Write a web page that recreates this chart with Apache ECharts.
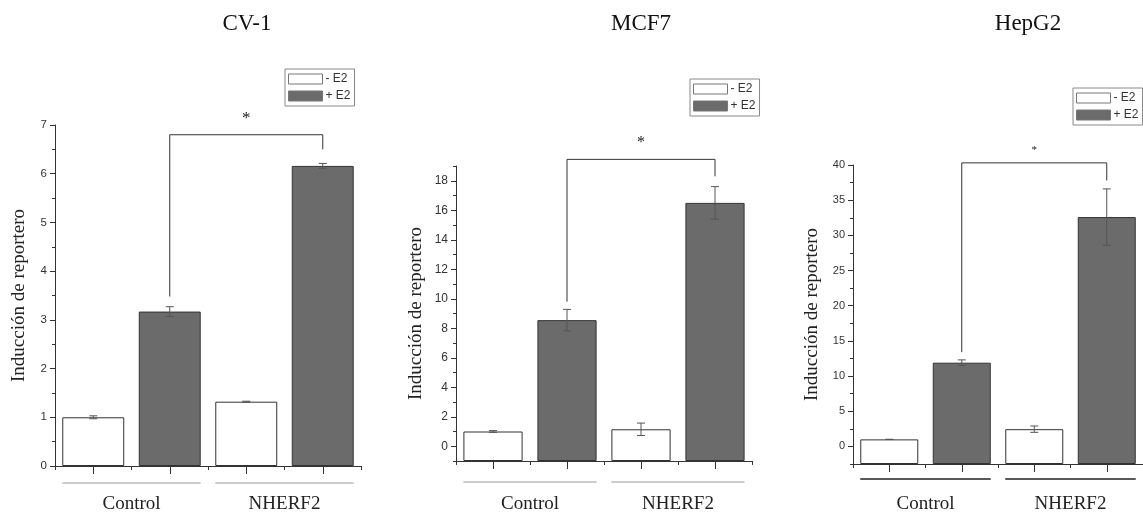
<!DOCTYPE html>
<html><head><meta charset="utf-8">
<script src="https://cdn.jsdelivr.net/npm/echarts@6/dist/echarts.min.js"></script>
<style>html,body{margin:0;padding:0;background:#fff}#c{width:1143px;height:514px}</style>
</head><body><div id="c"></div>
<script>
// ---- data ----
const panelTitles = ['CV-1', 'MCF7', 'HepG2'];
const categories = ['Control - E2', 'Control + E2', 'NHERF2 - E2', 'NHERF2 + E2'];
const groups = ['Control', 'NHERF2'];
const seriesNames = ['- E2', '+ E2'];
const yAxisTitle = 'Inducción de reportero';

const cv1NoE2 = [1.00, 1.32];
const cv1E2 = [3.17, 6.16];
const cv1NoE2Err = [0.03, 0.01];
const cv1E2Err = [0.10, 0.05];
const cv1Ticks = [0, 1, 2, 3, 4, 5, 6, 7];
const cv1Range = [0, 7];
const cv1MinorStep = 0.5;
const cv1Bracket = [3.48, 6.5, 6.8]; // left end, right end, top

const mcf7NoE2 = [1.00, 1.15];
const mcf7E2 = [8.55, 16.5];
const mcf7NoE2Err = [0.06, 0.42];
const mcf7E2Err = [0.73, 1.10];
const mcf7Ticks = [0, 2, 4, 6, 8, 10, 12, 14, 16, 18];
const mcf7Range = [-1, 19];
const mcf7MinorStep = 1;
const mcf7Bracket = [9.8, 18.3, 19.45];

const hepNoE2 = [1.00, 2.45];
const hepE2 = [11.9, 32.6];
const hepNoE2Err = [0.0, 0.45];
const hepE2Err = [0.40, 4.0];
const hepTicks = [0, 5, 10, 15, 20, 25, 30, 35, 40];
const hepRange = [-2.5, 40];
const hepMinorStep = 2.5;
const hepBracket = [13.4, 37.8, 40.3];

// ---- layout / style (not data) ----
const panels = [
  { noE2: cv1NoE2, e2: cv1E2, noE2Err: cv1NoE2Err, e2Err: cv1E2Err, ticks: cv1Ticks, range: cv1Range, minor: cv1MinorStep, bracket: cv1Bracket,
    grid: { left: 55, top: 125, width: 306, height: 342 }, nameGap: 26, labelSize: 11.5, legend: { left: 285, top: 69 },
    title: [247, 24], starGap: 16, starSize: 17, groupOff: 17, groupColor: '#999', groupWidth: 1, groupMargin: 29, barW: 0.81 },
  { noE2: mcf7NoE2, e2: mcf7E2, noE2Err: mcf7NoE2Err, e2Err: mcf7E2Err, ticks: mcf7Ticks, range: mcf7Range, minor: mcf7MinorStep, bracket: mcf7Bracket,
    grid: { left: 456, top: 166, width: 296, height: 298 }, nameGap: 30, labelSize: 12, legend: { left: 690, top: 79 },
    title: [641, 24], starGap: 17, starSize: 16, groupOff: 21, groupColor: '#999', groupWidth: 1, groupMargin: 34, barW: 0.8 },
  { noE2: hepNoE2, e2: hepE2, noE2Err: hepNoE2Err, e2Err: hepE2Err, ticks: hepTicks, range: hepRange, minor: hepMinorStep, bracket: hepBracket,
    grid: { left: 853, top: 165, width: 294, height: 299 }, nameGap: 31, labelSize: 11, legend: { left: 1073, top: 88 },
    title: [1028, 24], starGap: 13, starSize: 11, groupOff: 15, groupColor: '#222', groupWidth: 1.5, groupMargin: 31, barW: 0.8 }
];

const serif = 'Liberation Serif';
const sans = 'Liberation Sans';
const grids = [], xAxes = [], yAxes = [], series = [], legends = [], graphics = [];

panels.forEach((p, i) => {
  grids.push(Object.assign({ containLabel: false }, p.grid));
  const xi = xAxes.length, yi = yAxes.length;
  xAxes.push({ type: 'category', gridIndex: i, data: categories, position: 'bottom',
    axisLine: { onZero: false, lineStyle: { color: '#333', width: 1 } },
    axisTick: { show: true, length: 4, interval: 0, lineStyle: { color: '#333' } },
    axisLabel: { show: false }, splitLine: { show: false } });
  xAxes.push({ type: 'category', gridIndex: i, data: categories, position: 'bottom',
    axisLine: { show: false, onZero: false },
    axisTick: { show: true, alignWithLabel: true, length: 8, interval: 0, lineStyle: { color: '#333' } },
    axisLabel: { show: false, interval: 0 }, splitLine: { show: false } });
  xAxes.push({ type: 'category', gridIndex: i, data: groups, position: 'bottom',
    axisLine: { show: false, onZero: false }, axisTick: { show: false },
    axisLabel: { show: true, margin: p.groupMargin, fontFamily: serif, fontSize: 19, color: '#222' } });

  yAxes.push({ type: 'value', gridIndex: i, position: 'left', min: p.range[0], max: p.range[1],
    axisLine: { show: true, lineStyle: { color: '#333', width: 1 } },
    axisTick: { show: true, length: 5, customValues: p.ticks, lineStyle: { color: '#333' } },
    axisLabel: { show: true, customValues: p.ticks, margin: 8, fontFamily: sans, fontSize: p.labelSize, color: '#333' },
    splitLine: { show: false },
    name: yAxisTitle, nameLocation: 'middle', nameGap: p.nameGap,
    nameTextStyle: { fontFamily: serif, fontSize: 19, color: '#222' } });
  yAxes.push({ type: 'value', gridIndex: i, position: 'left', min: p.range[0], max: p.range[1], interval: p.minor,
    axisLine: { show: false }, axisTick: { show: true, length: 3, lineStyle: { color: '#333' } },
    axisLabel: { show: false }, splitLine: { show: false } });

  // bars start at the axis minimum: an invisible base bar (0 -> min) with the real bar stacked on it
  const base = p.range[0];
  const bw = (p.barW * 100) + '%';
  const common = { type: 'bar', xAxisIndex: xi, yAxisIndex: yi, barWidth: bw, barGap: '-100%', stackStrategy: 'all' };
  series.push(Object.assign({}, common, { name: 'baseA' + i, stack: 'A' + i, data: [base, '-', base, '-'],
    itemStyle: { color: 'rgba(0,0,0,0)' }, silent: true, z: 1 }));
  series.push(Object.assign({}, common, { name: seriesNames[0], stack: 'A' + i,
    data: [p.noE2[0] - base, '-', p.noE2[1] - base, '-'],
    itemStyle: { color: '#ffffff', borderColor: '#333', borderWidth: 1 }, z: 2 }));
  series.push(Object.assign({}, common, { name: 'baseB' + i, stack: 'B' + i, data: ['-', base, '-', base],
    itemStyle: { color: 'rgba(0,0,0,0)' }, silent: true, z: 1 }));
  series.push(Object.assign({}, common, { name: seriesNames[1], stack: 'B' + i,
    data: ['-', p.e2[0] - base, '-', p.e2[1] - base],
    itemStyle: { color: '#6b6b6b', borderColor: '#333', borderWidth: 1 }, z: 2 }));

  const errData = [
    [0, p.noE2[0] - p.noE2Err[0], p.noE2[0] + p.noE2Err[0]],
    [1, p.e2[0] - p.e2Err[0], p.e2[0] + p.e2Err[0]],
    [2, p.noE2[1] - p.noE2Err[1], p.noE2[1] + p.noE2Err[1]],
    [3, p.e2[1] - p.e2Err[1], p.e2[1] + p.e2Err[1]]
  ];
  series.push({ type: 'custom', xAxisIndex: xi, yAxisIndex: yi, data: errData, z: 5, silent: true,
    encode: { x: 0, y: [1, 2] },
    renderItem: (params, api) => {
      const lo = api.coord([api.value(0), api.value(1)]);
      const hi = api.coord([api.value(0), api.value(2)]);
      const w = 4, st = { stroke: '#555', lineWidth: 1 };
      return { type: 'group', children: [
        { type: 'line', shape: { x1: lo[0], y1: lo[1], x2: hi[0], y2: hi[1] }, style: st },
        { type: 'line', shape: { x1: lo[0] - w, y1: lo[1], x2: lo[0] + w, y2: lo[1] }, style: st },
        { type: 'line', shape: { x1: hi[0] - w, y1: hi[1], x2: hi[0] + w, y2: hi[1] }, style: st }
      ] };
    } });

  series.push({ type: 'custom', xAxisIndex: xi, yAxisIndex: yi, clip: false, z: 6, silent: true,
    data: [[1, p.bracket[0], 3, p.bracket[1], p.bracket[2]]],
    encode: { x: [0, 2], y: [1, 3, 4] },
    renderItem: (params, api) => {
      const l = api.coord([api.value(0), api.value(1)]);
      const r = api.coord([api.value(2), api.value(3)]);
      const t = api.coord([api.value(0), api.value(4)])[1];
      return { type: 'group', children: [
        { type: 'polyline', shape: { points: [[l[0], l[1]], [l[0], t], [r[0], t], [r[0], r[1]]] },
          style: { stroke: '#333', lineWidth: 1, fill: null } },
        { type: 'text', style: { text: '*', x: (l[0] + r[0]) / 2, y: t - p.starGap, align: 'center', verticalAlign: 'middle',
          font: p.starSize + 'px ' + serif, fill: '#222' } }
      ] };
    } });

  series.push({ type: 'custom', xAxisIndex: xi, yAxisIndex: yi, clip: false, z: 6, silent: true,
    data: [[0, 1, p.range[0]], [2, 3, p.range[0]]],
    encode: { x: [0, 1], y: 2 },
    renderItem: (params, api) => {
      const half = api.size([1, 0])[0] * p.barW / 2;
      const a = api.coord([api.value(0), api.value(2)]);
      const b = api.coord([api.value(1), api.value(2)]);
      const y = a[1] + p.groupOff;
      return { type: 'line', shape: { x1: a[0] - half, y1: y, x2: b[0] + half, y2: y },
        style: { stroke: p.groupColor, lineWidth: p.groupWidth } };
    } });

  legends.push({ show: true, data: seriesNames, orient: 'vertical', left: p.legend.left, top: p.legend.top,
    icon: 'rect', itemWidth: 34, itemHeight: 10, itemGap: 5, padding: [4, 4, 4, 3],
    borderColor: '#888', borderWidth: 1, selectedMode: false,
    itemStyle: { borderColor: '#777', borderWidth: 1 },
    textStyle: { fontFamily: sans, fontSize: 12, color: '#333', padding: [0, 0, 0, -2] } });

  graphics.push({ type: 'text', x: p.title[0], y: p.title[1],
    style: { text: panelTitles[i], align: 'center', verticalAlign: 'middle', font: '23px ' + serif, fill: '#111' } });
});

const chart = echarts.init(document.getElementById('c'), null, { renderer: 'canvas' });
chart.setOption({
  animation: false,
  backgroundColor: '#ffffff',
  grid: grids, xAxis: xAxes, yAxis: yAxes, series: series, legend: legends, graphic: graphics
});
</script>
</body></html>
